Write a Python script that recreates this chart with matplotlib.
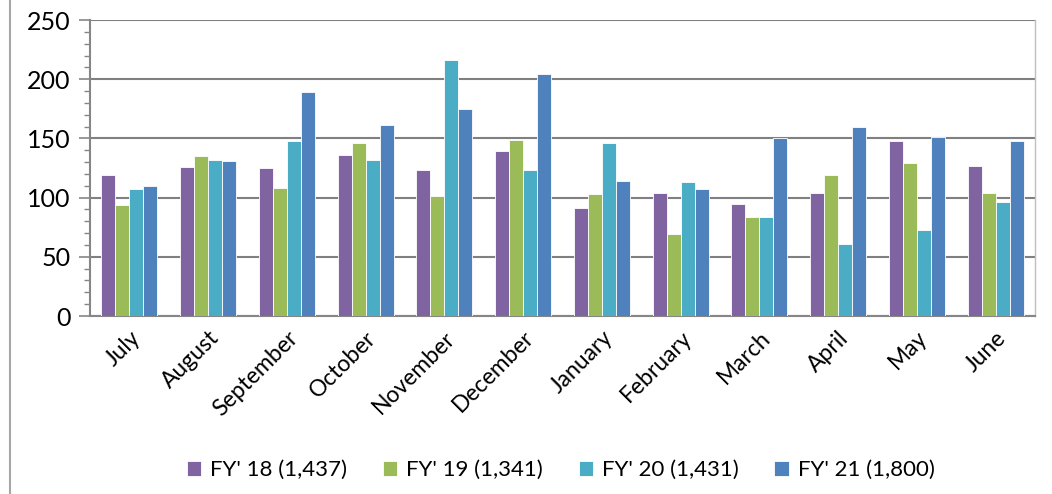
import numpy as np
import matplotlib.pyplot as plt

meses = ['July', 'August', 'September', 'October', 'November', 'December',
         'January', 'February', 'March', 'April', 'May', 'June']

fy18 = [119, 126, 125, 136, 123, 139, 91, 104, 95, 104, 148, 127]
fy19 = [94, 135, 108, 146, 101, 149, 103, 69, 84, 119, 129, 104]
fy20 = [107, 132, 148, 132, 216, 123, 146, 113, 84, 61, 73, 96]
fy21 = [110, 131, 189, 161, 175, 204, 114, 107, 150, 160, 151, 148]

series = [fy18, fy19, fy20, fy21]
rotulos = ["FY' 18 (1,437)", "FY' 19 (1,341)", "FY' 20 (1,431)", "FY' 21 (1,800)"]
cores = ['#8064A2', '#9BBB59', '#4BACC6', '#4F81BD']

plt.rcParams['font.family'] = ['Lato', 'DejaVu Sans']

fig = plt.figure(figsize=(10.52, 4.94), dpi=100)
ax = fig.add_axes([90 / 1052, 1 - 316 / 494, 945 / 1052, 296 / 494])

x = np.arange(len(meses))
largura = 0.178
for i, (vals, cor, rot) in enumerate(zip(series, cores, rotulos)):
    ax.bar(x + (i - 1.5) * largura, vals, largura, color=cor, label=rot,
           edgecolor='white', linewidth=0.6, zorder=3)

ax.set_xlim(-0.5, len(meses) - 0.5)
ax.set_ylim(0, 250)
ax.set_yticks(range(0, 251, 50))
ax.set_yticks(range(0, 251, 10), minor=True)
ax.yaxis.grid(True, color='#808080', linewidth=1.5, zorder=0)
ax.tick_params(axis='y', which='major', length=8, width=1.2, color='#868686',
               labelsize=18, pad=6)
ax.tick_params(axis='y', which='minor', length=4, width=1.0, color='#868686')
ax.set_xticks(x)
ax.set_xticklabels(meses, rotation=45, ha='right', rotation_mode='anchor',
                   fontsize=16.5)
ax.tick_params(axis='x', length=0, pad=8)

for lado in ['left', 'bottom']:
    ax.spines[lado].set_color('#868686')
    ax.spines[lado].set_linewidth(1.5)
ax.spines['top'].set_visible(False)
ax.spines['right'].set_color('#BFBFBF')
ax.spines['right'].set_linewidth(1.0)

fig.legend(loc='center', bbox_to_anchor=(0.533, 1 - 470 / 494), ncol=4,
           frameon=False, fontsize=16, handlelength=0.65, handleheight=0.65,
           handletextpad=0.4, columnspacing=1.6)

# borda do grafico
fig.add_artist(plt.Line2D([10 / 1052, 10 / 1052], [0, 1], color='#A6A6A6',
                          linewidth=1.5, transform=fig.transFigure))

plt.savefig('out.png', dpi=100)
